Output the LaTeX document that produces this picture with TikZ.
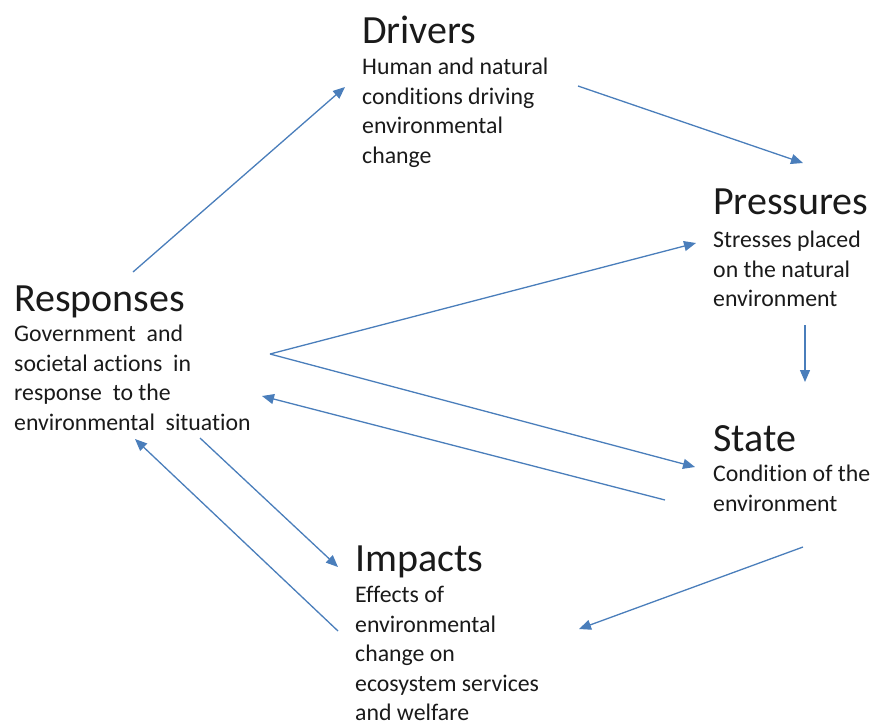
\documentclass[tikz,border=0pt]{standalone}
\usepackage{fontspec}
\setmainfont{Carlito}[Ligatures=NoCommon]
\usetikzlibrary{arrows.meta}
\definecolor{arrowblue}{HTML}{4A7EBB}
\definecolor{txt}{HTML}{1A1A1A}
\tikzset{
  titlebox/.style={anchor=base west, inner sep=0pt, text=txt, font=\fontsize{40}{46}\selectfont},
  bodybox/.style={anchor=north west, inner sep=0pt, align=left, text=txt, font=\fontsize{23.8}{29.6}\selectfont},
  flow/.style={draw=arrowblue, line width=1.3pt, -{Triangle[length=12pt,width=10pt]}}
}
\begin{document}
\begin{tikzpicture}[x=1pt,y=-1pt]
\useasboundingbox (0,0) rectangle (875,721);
% Titles
\node[titlebox] (drvT) at (362,43) {Drivers};
\node[titlebox] (prsT) at (713,214) {Pressures};
\node[titlebox] (rspT) at (14,311) {Responses};
\node[titlebox] (staT) at (713,451) {State};
\node[titlebox] (impT) at (355,571) {Impacts};
% Bodies
\node[bodybox] (drvB) at (362,58) {Human and natural\\conditions driving\\environmental\\change};
\node[bodybox] (prsB) at (713,231) {Stresses placed\\on the natural\\environment};
\node[bodybox] (rspB) at (14,325) {Government\ \ and\\societal actions\ \ in\\response\ \ to the\\environmental\ \ situation};
\node[bodybox] (staB) at (713,465) {Condition of the\\environment};
\node[bodybox] (impB) at (355,586) {Effects of\\environmental\\change on\\ecosystem services\\and welfare};
% Connector end points
\coordinate (a1s) at (133,272);  \coordinate (a1e) at (345,87);
\coordinate (a2s) at (578,86);   \coordinate (a2e) at (803,163);
\coordinate (v)   at (270,354);
\coordinate (a3e) at (696,243);
\coordinate (a4e) at (695,467);
\coordinate (a5s) at (805,325);  \coordinate (a5e) at (805,382);
\coordinate (a6s) at (665,500);  \coordinate (a6e) at (262,396);
\coordinate (a7s) at (200,438);  \coordinate (a7e) at (338,567);
\coordinate (a8s) at (338,631);  \coordinate (a8e) at (135,439);
\coordinate (a9s) at (803,547);  \coordinate (a9e) at (579,629);
% Connectors
\draw[flow] (a1s) -- (a1e);
\draw[flow] (a2s) -- (a2e);
\draw[flow] (v) -- (a3e);
\draw[flow] (v) -- (a4e);
\draw[flow] (a5s) -- (a5e);
\draw[flow] (a6s) -- (a6e);
\draw[flow] (a7s) -- (a7e);
\draw[flow] (a8s) -- (a8e);
\draw[flow] (a9s) -- (a9e);
\end{tikzpicture}
\end{document}
